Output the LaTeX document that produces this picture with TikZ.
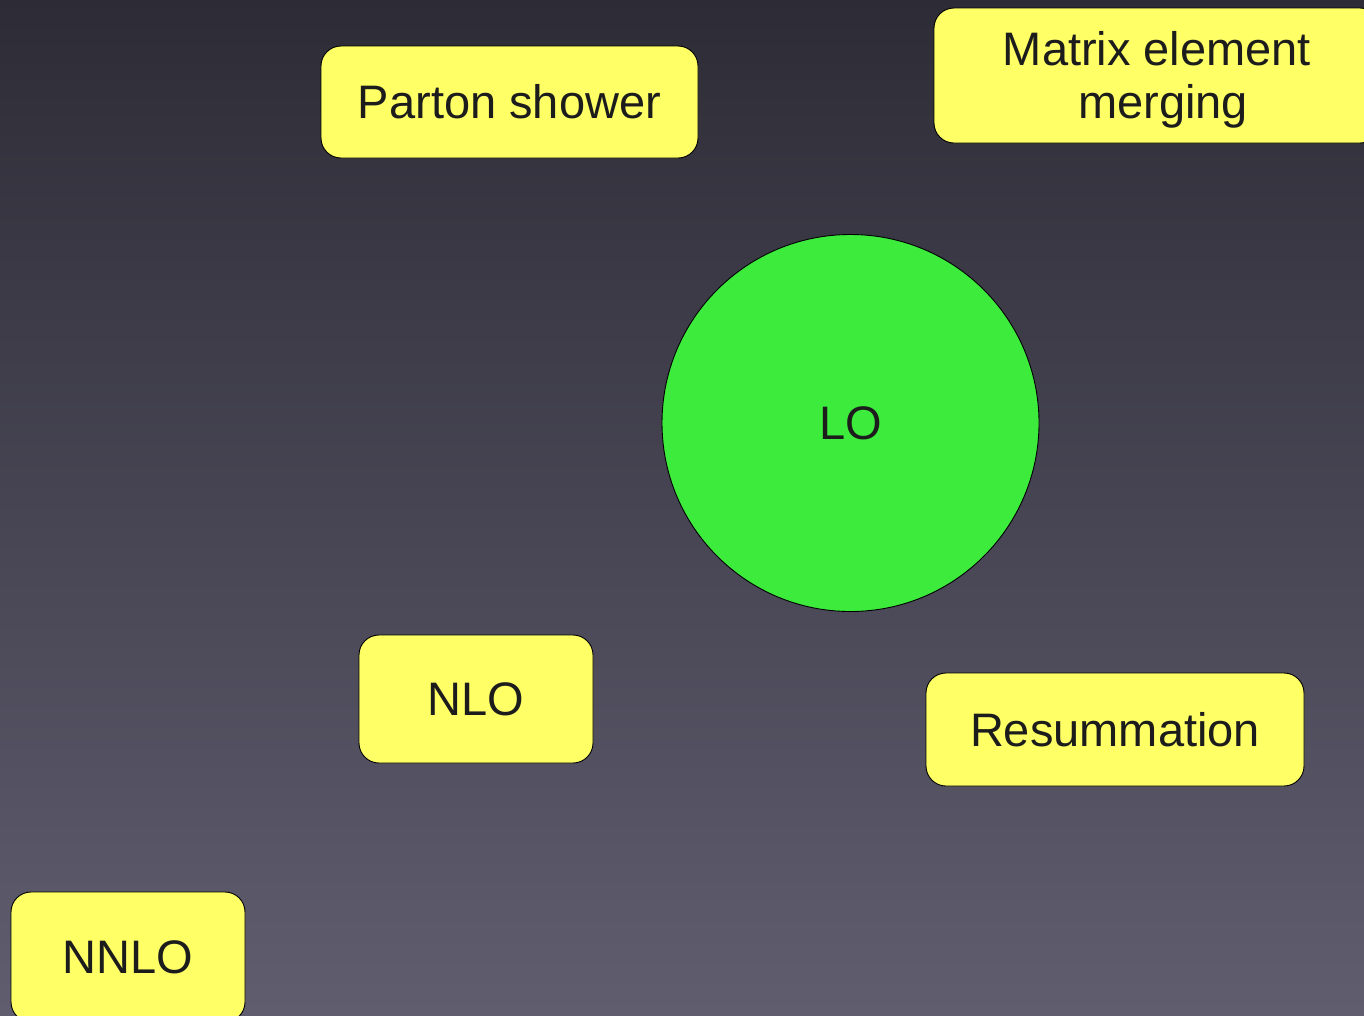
\documentclass[tikz,border=0pt]{standalone}
\usepackage{fontspec}
\setmainfont{Liberation Sans}
\definecolor{bgtop}{RGB}{45,44,54}
\definecolor{bgbot}{RGB}{96,93,111}
\definecolor{boxyellow}{RGB}{255,255,102}
\definecolor{loGreen}{RGB}{61,235,61}
\definecolor{textdark}{RGB}{28,28,28}
\begin{document}
\begin{tikzpicture}[x=1pt,y=-1pt,
  box/.style={draw=black, line width=0.9pt, fill=boxyellow, rounded corners=20pt,
    inner sep=0pt, text=textdark, font=\fontsize{47}{53}\selectfont, align=center},
  lonode/.style={circle, draw=black, line width=0.9pt, fill=loGreen, inner sep=0pt,
    minimum size=377pt, text=textdark, font=\fontsize{47}{53}\selectfont}]
\useasboundingbox (0,0) rectangle (1364,1015);
\shade[top color=bgtop, bottom color=bgbot] (0,0) rectangle (1364,1015);
\clip (0,0) rectangle (1364,1015);
\node[box, minimum width=377pt, minimum height=112pt] (ps) at (509.5,102) {Parton shower};
\node[box, minimum width=446pt, minimum height=135pt] (mem) at (1157,75.5) {\rule{0pt}{43pt}Matrix element\\\hspace*{12pt}merging};
\node[lonode] (lo) at (850.5,423) {LO};
\node[box, minimum width=234pt, minimum height=128pt] (nlo) at (476,699) {NLO};
\node[box, minimum width=378pt, minimum height=113pt] (res) at (1115,729.5) {Resummation};
\node[box, minimum width=234pt, minimum height=130pt] (nnlo) at (128,957) {NNLO};
\end{tikzpicture}
\end{document}
